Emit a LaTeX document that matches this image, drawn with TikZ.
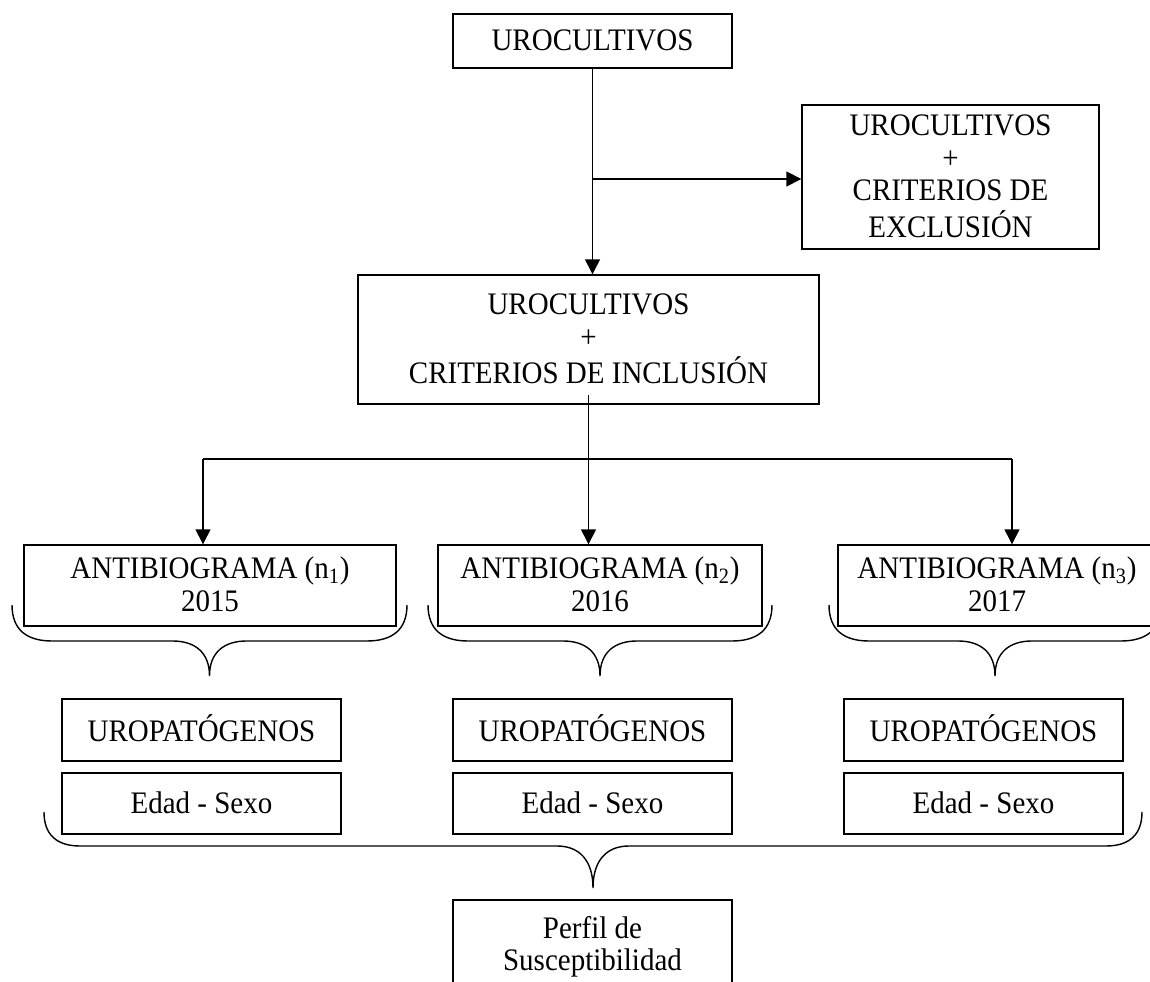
\documentclass[tikz,border=0pt]{standalone}
\usepackage{fontspec}
\setmainfont{Liberation Serif}
\usetikzlibrary{arrows.meta, positioning, calc}
% taller text, as in the original figure
\newcommand{\tallbox}[1]{\raisebox{-1.8pt}[\height][\depth]{\scalebox{1}[1.08]{\begin{tabular}{@{}c@{}}#1\end{tabular}}}}

\begin{document}
\begin{tikzpicture}[x=0.02cm, y=-0.02cm, font=\fontsize{16.5}{17.1}\selectfont]
  % Styles for boxes, links and braces
  \tikzset{box/.style={draw, line width=0.8pt, align=center, inner sep=0pt}}
  \tikzset{link/.style={line width=0.8pt, -{Triangle[length=8.5pt, width=8.5pt]}}}
  \tikzset{wire/.style={line width=0.8pt}}
  \tikzset{brc/.style={line width=0.8pt}}

  \useasboundingbox (0,0) rectangle (1150,982);

  % Cultures and criteria
  \node[box, minimum width=5.58cm, minimum height=1.08cm] (uro) at (592.5,41) {\tallbox{UROCULTIVOS}};
  \node[box, minimum width=5.94cm, minimum height=2.88cm] (excl) at (950.5,177)
    {\tallbox{UROCULTIVOS\\+\\CRITERIOS DE\\EXCLUSIÓN}};
  \node[box, minimum width=9.22cm, minimum height=2.58cm] (incl) at (588.5,339.5)
    {\tallbox{UROCULTIVOS\\+\\CRITERIOS DE INCLUSIÓN}};

  \coordinate (fork) at (uro.south |- 0,179);
  \draw[link] (uro.south) -- (uro.south |- incl.north);
  \draw[link] (fork) -- (fork -| excl.west);

  % Antibiograms per year
  \node[box, minimum width=7.44cm, minimum height=1.62cm] (ab1) at (210,585.5)
    {\tallbox{ANTIBIOGRAMA (n\textsubscript{1})\\2015}};
  \node[box, minimum width=6.48cm, minimum height=1.62cm] (ab2) at (600,585.5)
    {\tallbox{ANTIBIOGRAMA (n\textsubscript{2})\\2016}};
  \node[box, minimum width=6.36cm, minimum height=1.62cm] (ab3) at (997,585.5)
    {\tallbox{ANTIBIOGRAMA (n\textsubscript{3})\\2017}};

  \coordinate (bus) at (incl.south |- 0,459);
  \coordinate (b1) at (203,459);
  \coordinate (b3) at (1012,459);
  \draw[wire] ($(incl.south)+(0,-10)$) -- (bus);
  \draw[wire] (b1) -- (b3);
  \draw[link] (b1) -- (b1 |- ab1.north);
  \draw[link] (bus) -- (bus |- ab2.north);
  \draw[link] (b3) -- (b3 |- ab3.north);

  % Braces under each year
  \foreach \l/\r in {12/407, 428/772, 829/1161}{
    \pgfmathsetmacro{\m}{(\l+\r)/2}
    \draw[brc] (\l,605) .. controls (\l,630) and (\l+15,641) .. (\l+40,641)
      -- (\m-37,641) .. controls (\m-15,641) and (\m,652) .. (\m,676)
      .. controls (\m,652) and (\m+15,641) .. (\m+37,641)
      -- (\r-40,641) .. controls (\r-15,641) and (\r,630) .. (\r,605);
  }

  % Uropathogens, age and sex
  \foreach \i/\x in {1/201.5, 2/592.5, 3/983.5}{
    \node[box, minimum width=5.58cm, minimum height=1.24cm] (pat\i) at (\x,730) {\tallbox{UROPATÓGENOS}};
    \node[box, minimum width=5.58cm, minimum height=1.22cm] (es\i) at (\x,803.5) {\tallbox{Edad - Sexo}};
  }

  % Big brace
  \draw[brc] (44,812) .. controls (44,834) and (56,846) .. (80,846)
    -- (557,846) .. controls (579,846) and (593,860) .. (593,888)
    .. controls (593,860) and (607,846) .. (629,846)
    -- (1106,846) .. controls (1130,846) and (1142,834) .. (1142,812);

  \node[box, minimum width=5.58cm, minimum height=1.8cm] (perfil) at (592.5,945)
    {\tallbox{Perfil de\\Susceptibilidad}};
\end{tikzpicture}
\end{document}
